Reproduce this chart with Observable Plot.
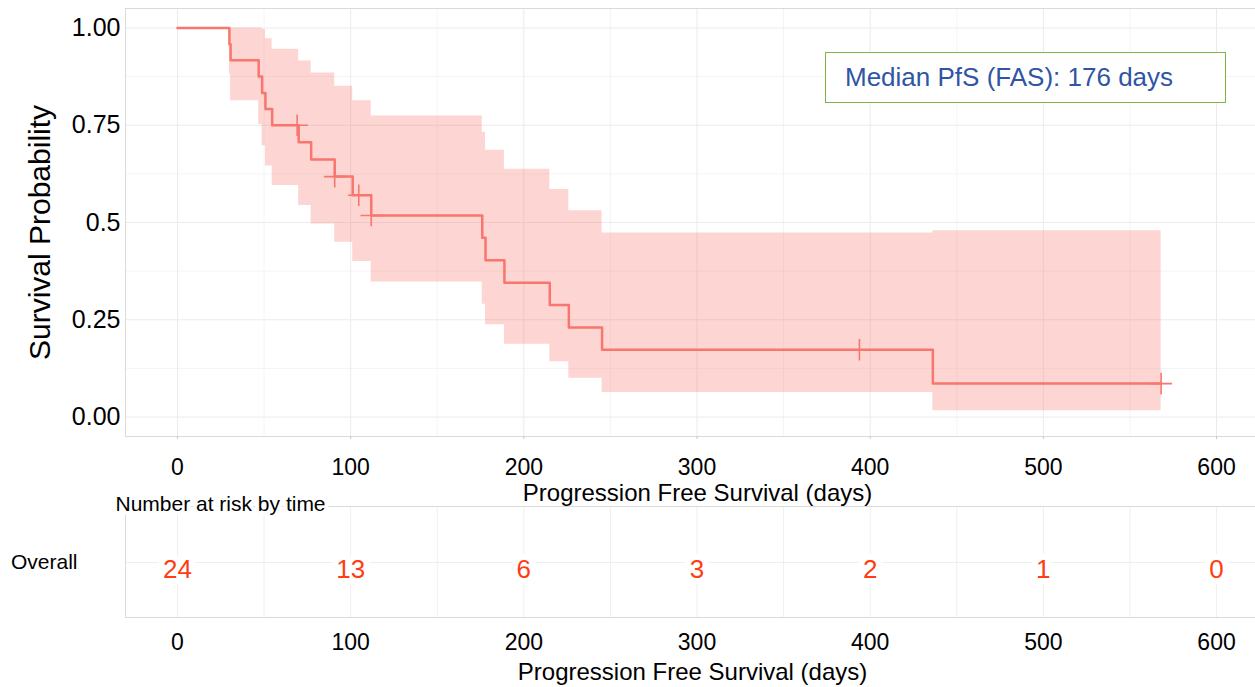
<!DOCTYPE html>
<html><head><meta charset="utf-8">
<script src="https://cdn.jsdelivr.net/npm/d3@7"></script>
<script src="https://cdn.jsdelivr.net/npm/@observablehq/plot@0.6"></script>
<style>
body{margin:0;background:#fff;font-family:"Liberation Sans",Arial,sans-serif;}
#wrap{position:relative;width:1255px;height:687px;overflow:hidden;background:#fff}
#main,#risk{position:absolute;left:0}
#main{top:0}
#risk{top:500px}
#legend{position:absolute;left:825px;top:52px;width:401px;height:51px;box-sizing:border-box;border:1.6px solid #7EB548;color:#2F55A5;font-size:26px;line-height:48px;padding-left:19px;background:#fff;white-space:nowrap}
</style></head><body>
<div id="wrap"><div id="main"></div><div id="risk"></div><div id="legend">Median PfS (FAS): 176 days</div></div>
<script>
// Kaplan–Meier step curve
const times = [0, 30, 30.7, 46.9, 48.9, 50.8, 54.7, 70, 77.2, 90.8, 101.2, 111.9, 176, 177.9, 188.8, 215, 226, 245.2, 436.2, 568];
const surv  = [1, 0.958, 0.917, 0.875, 0.833, 0.792, 0.75, 0.706, 0.662, 0.618, 0.570, 0.518, 0.461, 0.403, 0.345, 0.288, 0.230, 0.173, 0.086, 0.086];
const upper = [1, 1, 1, 1, 0.996, 0.972, 0.945, 0.915, 0.884, 0.850, 0.813, 0.774, 0.732, 0.686, 0.637, 0.585, 0.530, 0.473, 0.479, 0.479];
const lower = [1, 0.881, 0.813, 0.752, 0.697, 0.645, 0.595, 0.544, 0.496, 0.449, 0.400, 0.347, 0.290, 0.237, 0.187, 0.142, 0.100, 0.063, 0.016, 0.016];
// censoring marks
const censorTimes = [69.1, 90.8, 104.7, 111.9, 393.8, 568];
const censorSurv  = [0.75, 0.618, 0.570, 0.518, 0.173, 0.086];
// axes
const xTicks = [0, 100, 200, 300, 400, 500, 600];
const xMinor = [50, 150, 250, 350, 450, 550];
const yTicks = [0, 0.25, 0.5, 0.75, 1];
const yLabels = ["0.00", "0.25", "0.5", "0.75", "1.00"];
const yMinor = [0.125, 0.375, 0.625, 0.875];
// risk table
const riskTimes = [0, 100, 200, 300, 400, 500, 600];
const riskCounts = [24, 13, 6, 3, 2, 1, 0];
const riskGroup = ["Overall"];

const curve = times.map((t, i) => ({time: t, surv: surv[i], upper: upper[i], lower: lower[i]}));
const censor = censorTimes.map((t, i) => ({time: t, surv: censorSurv[i]}));

const red = "#F8766D";
const font = "Liberation Sans, Arial, sans-serif";
const xDomain = [-30, 622.5];

const main = Plot.plot({
  width: 1255, height: 500,
  marginLeft: 125, marginRight: 0, marginTop: 8, marginBottom: 64,
  style: {fontFamily: font, background: "transparent", overflow: "visible", color: "#000"},
  x: {domain: xDomain},
  y: {domain: [-0.05, 1.05]},
  marks: [
    Plot.gridX(xMinor, {stroke: "#f4f4f4", strokeOpacity: 1}),
    Plot.gridY(yMinor, {stroke: "#f4f4f4", strokeOpacity: 1}),
    Plot.gridX(xTicks, {stroke: "#ebebeb", strokeOpacity: 1}),
    Plot.gridY(yTicks, {stroke: "#ebebeb", strokeOpacity: 1}),
    Plot.frame({stroke: "#dadada"}),
    Plot.areaY(curve, {x: "time", y1: "lower", y2: "upper", curve: "step-after", fill: red, fillOpacity: 0.3}),
    Plot.lineY(curve, {x: "time", y: "surv", curve: "step-after", stroke: red, strokeWidth: 2.5}),
    Plot.dot(censor, {x: "time", y: "surv", symbol: "plus", r: 7, stroke: red, strokeWidth: 1.6}),
    Plot.axisX(xTicks, {tickSize: 3, tickPadding: 19.5, fontSize: 23, stroke: "#c8c8c8", label: null}),
    Plot.axisY(yTicks, {tickSize: 0, tickPadding: 5, fontSize: 25, tickFormat: (d) => yLabels[yTicks.indexOf(d)], label: null}),
    Plot.text(["Survival Probability"], {frameAnchor: "left", textAnchor: "middle", lineAnchor: "middle", dx: -85, dy: 10, rotate: -90, fontSize: 30, fill: "#000"}),
    Plot.text(["Progression Free Survival (days)"], {frameAnchor: "bottom", lineAnchor: "middle", dx: 7, dy: 57, fontSize: 24, fill: "#000"})
  ]
});
document.getElementById("main").appendChild(main);

const risk = Plot.plot({
  width: 1255, height: 187,
  marginLeft: 125, marginRight: 0, marginTop: 6, marginBottom: 70,
  style: {fontFamily: font, background: "transparent", overflow: "visible", color: "#000"},
  x: {domain: xDomain},
  y: {type: "point", domain: riskGroup},
  marks: [
    Plot.gridX(xMinor.concat(xTicks), {stroke: "#efefef", strokeOpacity: 1}),
    Plot.gridY(riskGroup, {stroke: "#efefef", strokeOpacity: 1}),
    Plot.frame({stroke: "#dadada"}),
    Plot.text(riskCounts, {x: (d, i) => riskTimes[i], y: () => riskGroup[0], text: (d) => String(d), fill: "#FF3C12", fontSize: 26, dy: 7, stroke: "white", strokeWidth: 12}),
    Plot.axisX(xTicks, {tickSize: 0, tickPadding: 16, fontSize: 23, label: null}),
    Plot.axisY(riskGroup, {tickSize: 0, tickPadding: 48, fontSize: 21, label: null}),
    Plot.text(["Progression Free Survival (days)"], {frameAnchor: "bottom", lineAnchor: "middle", dx: 2, dy: 55, fontSize: 24, fill: "#000"}),
    Plot.text(["Number at risk by time"], {frameAnchor: "top-left", textAnchor: "start", lineAnchor: "middle", dx: -10, dy: -2, fontSize: 21, fill: "#000", stroke: "white", strokeWidth: 8})
  ]
});
document.getElementById("risk").appendChild(risk);
</script>
</body></html>
